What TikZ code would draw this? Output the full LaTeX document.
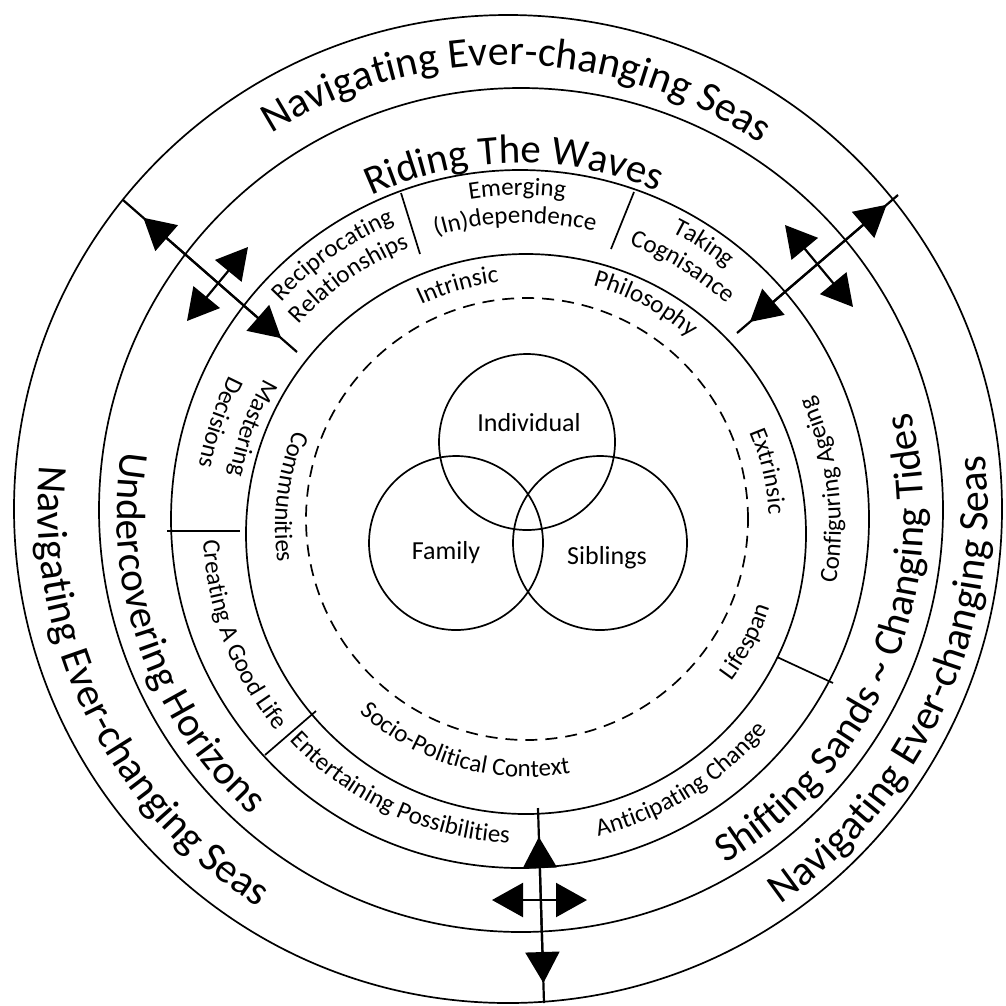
\documentclass[tikz,border=0pt]{standalone}
\usepackage{fontspec}
\setmainfont{Carlito}
\usetikzlibrary{arrows.meta}
\usetikzlibrary{decorations.text}
\newcommand{\bigfont}{\fontsize{42}{42}\selectfont}
\newcommand{\midfont}{\fontsize{41}{41}\selectfont}
\newcommand{\smallfont}{\fontsize{25}{25}\selectfont}
\tikzset{ring/.style = {line width=1.7pt}}
\tikzset{divider/.style = {line width=1.7pt}}
\tikzset{axisline/.style = {line width=2.2pt}}
\tikzset{dblarrow/.style = {line width=2.2pt, {Triangle[length=31pt,width=34pt]}-{Triangle[length=31pt,width=34pt]}}}
\tikzset{venn/.style = {circle, draw, line width=1.7pt, inner sep=0, minimum size=176pt}}
\tikzset{vlabel/.style = {inner sep=0, font=\fontsize{26}{26}\selectfont}}
\tikzset{arctext/.style = {decorate, decoration={text along path, text align=center, text={#1}}}}
\newcommand{\cwarc}[4]{\path[arctext={#4}] (#2+#3:#1) arc[start angle=#2+#3, end angle=#2-#3, radius=#1];}
\newcommand{\ccwarc}[4]{\path[arctext={#4}] (#2-#3:#1) arc[start angle=#2-#3, end angle=#2+#3, radius=#1];}
\begin{document}
\begin{tikzpicture}[x=1pt, y=1pt]
  \fill[white] (0,0) rectangle (1006,-1005);
  \useasboundingbox (0,0) rectangle (1006,-1005);

  \coordinate (o1) at (508,-509);
  \coordinate (o2) at (521,-510);
  \coordinate (o3) at (520,-519);
  \coordinate (o4) at (526,-534);
  \coordinate (o5) at (527,-519);
  \draw[ring] (o1) circle[radius=494];
  \draw[ring] (o2) circle[radius=422];
  \draw[ring] (o3) circle[radius=349];
  \draw[ring] (o4) circle[radius=280];
  \draw[ring, dash pattern=on 12pt off 8pt] (o5) circle[radius=221];

  \draw[divider] (401,-193) -- (420,-254);
  \draw[divider] (634,-192) -- (611,-249);
  \draw[divider] (777,-657) -- (833,-683);
  \draw[divider] (265,-755) -- (316,-711);
  \draw[divider] (167,-531) -- (240,-531);

  \node[venn] (indiv) at (527,-442) {};
  \node[venn, minimum size=174pt] (family) at (456,-543) {};
  \node[venn, minimum size=174pt] (siblings) at (600,-543) {};
  \node[vlabel] (indivtxt) at (529,-423) {Individual};
  \node[vlabel] (familytxt) at (446,-553) {Family};
  \node[vlabel] (siblingstxt) at (607,-558) {Siblings};

  \coordinate (tlout) at (123,-200);
  \coordinate (tlin) at (297,-352);
  \coordinate (tlp1) at (187,-321);
  \coordinate (tlp2) at (248,-247);
  \draw[axisline] (tlout) -- (tlin);
  \draw[dblarrow, shorten <=27pt, shorten >=21pt] (tlout) -- (tlin);
  \draw[dblarrow] (tlp1) -- (tlp2);

  \coordinate (trout) at (898,-195);
  \coordinate (trin) at (737,-333);
  \coordinate (trp1) at (785,-225);
  \coordinate (trp2) at (853,-307);
  \draw[axisline] (trout) -- (trin);
  \draw[dblarrow, shorten <=15pt, shorten >=17pt] (trout) -- (trin);
  \draw[dblarrow] (trp1) -- (trp2);

  \coordinate (bin) at (538,-808);
  \coordinate (bout) at (544,-1003);
  \coordinate (bp1) at (492,-900);
  \coordinate (bp2) at (587,-900);
  \draw[axisline] (bin) -- (bout);
  \draw[dblarrow, shorten <=29pt, shorten >=20pt] (bin) -- (bout);
  \draw[dblarrow] (bp1) -- (bp2);

  \begin{scope}[shift={(508,-509)}]
    \cwarc{444}{88.8}{40}{|\bigfont|Navigating Ever-changing Seas}
    \ccwarc{470}{206.3}{38}{|\bigfont|Navigating Ever-changing Seas}
    \ccwarc{480}{-24.5}{37}{|\bigfont|Navigating Ever-changing Seas}
  \end{scope}

  \begin{scope}[shift={(520,-515)}]
    \cwarc{352}{91}{31}{|\midfont|Riding The Waves}
    \ccwarc{403}{199.5}{35}{|\midfont|Undercovering Horizons}
    \ccwarc{404}{-22.4}{43}{|\midfont|Shifting Sands {\textasciitilde} Changing Tides}
  \end{scope}

  \begin{scope}[shift={(523,-527)}]
    \cwarc{330}{125}{18}{|\smallfont|Reciprocating}
    \cwarc{302}{125}{18}{|\smallfont|Relationships}
    \cwarc{332}{91}{14}{|\smallfont|Emerging}
    \cwarc{304}{91.5}{20}{|\smallfont|(In)dependence}
    \cwarc{330}{57.5}{12}{|\smallfont|Taking}
    \cwarc{302}{58.5}{16}{|\smallfont|Cognisance}
    \ccwarc{298}{160}{15}{|\smallfont|Mastering}
    \ccwarc{330}{161}{14}{|\smallfont|Decisions}
    \ccwarc{320}{201}{24}{|\smallfont|Creating A Good Life}
    \ccwarc{316}{245}{28}{|\smallfont|Entertaining Possibilities}
    \ccwarc{318}{-58}{24}{|\smallfont|Anticipating Change}
    \ccwarc{318}{7}{23}{|\smallfont|Configuring Ageing}
  \end{scope}

  \begin{scope}[shift={(527,-527)}]
    \cwarc{246}{106}{15}{|\smallfont|Intrinsic}
    \cwarc{250}{62}{18}{|\smallfont|Philosophy}
    \cwarc{242}{13}{16}{|\smallfont|Extrinsic}
    \ccwarc{256}{-27.6}{15}{|\smallfont|Lifespan}
    \ccwarc{250}{254}{32}{|\smallfont|Socio-Political Context}
    \ccwarc{252}{172.7}{21}{|\smallfont|Communities}
  \end{scope}
\end{tikzpicture}
\end{document}
